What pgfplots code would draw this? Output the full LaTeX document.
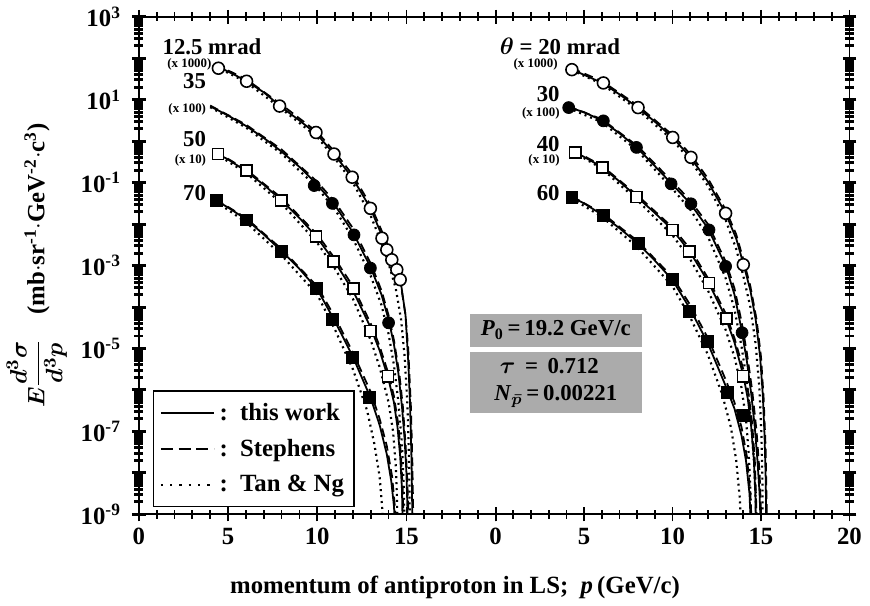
\documentclass[border=0pt]{standalone}
\usepackage{fontspec}
\setmainfont{Liberation Serif}
\usepackage{amsmath}
\usepackage{pgfplots}
\pgfplotsset{compat=1.18}
\pgfplotsset{
  sw/.style={black, line width=0.9pt, no markers, forget plot},
  st/.style={black, line width=0.9pt, dash pattern=on 4.5pt off 2.5pt, no markers, forget plot},
  tn/.style={black, line width=1.1pt, dash pattern=on 1pt off 2pt, no markers, forget plot},
  oc/.style={only marks, mark=*, mark size=3pt, mark options={fill=white, draw=black, line width=0.8pt}, forget plot},
  fc/.style={only marks, mark=*, mark size=3pt, mark options={fill=black, draw=black}, forget plot},
  os/.style={only marks, mark=square*, mark size=2.8pt, mark options={fill=white, draw=black, line width=0.8pt}, forget plot},
  fs/.style={only marks, mark=square*, mark size=3pt, mark options={fill=black, draw=black}, forget plot},
  legend image code/.code={\draw[#1] (0pt,0pt) -- (27pt,0pt);},
}
\tikzset{
  lab/.style={font=\fontsize{11.5}{11.5}\selectfont\bfseries, inner sep=1pt},
  fac/.style={font=\fontsize{6.5}{7}\selectfont\bfseries, inner sep=1pt},
}

\begin{document}
\begin{tikzpicture}[font=\bfseries]

% left panel
\begin{axis}[name=L, scale only axis, width=180pt, height=251pt,
  ymode=log, ymin=1e-9, ymax=1e3, xmin=0, xmax=20,
  axis x line*=box, axis y line*=left, axis line style={-, line width=0.9pt},
  clip mode=individual, tick align=center,
  ytick={1e-9,1e-8,1e-7,1e-6,1e-5,1e-4,1e-3,1e-2,1e-1,1e0,1e1,1e2,1e3},
  xtick={0,5,10,15,20}, minor x tick num=4,
  major tick length=7pt, minor tick length=4.5pt,
  every tick/.style={black, line width=0.9pt},
  y tick style={line width=1.5pt},
  ticklabel style={font=\fontsize{12.5}{12.5}\selectfont\bfseries},
  yticklabel style={xshift=-2pt},
  xticklabels={0,5,10,15,},
  yticklabels={10\textsuperscript{-9},,10\textsuperscript{-7},,10\textsuperscript{-5},,10\textsuperscript{-3},,10\textsuperscript{-1},,10\textsuperscript{1},,10\textsuperscript{3}},
  xlabel={momentum of antiproton in LS;\ \ \textit{p}\,(GeV/c)},
  xlabel style={at={(ticklabel cs:0.886)}, anchor=north, yshift=-9pt, font=\fontsize{12.5}{14}\selectfont\bfseries},
  ylabel={{\boldmath$E\dfrac{d^{3}\sigma}{d^{3}p}$}\quad(mb$\cdot$sr\textsuperscript{-1}$\cdot$GeV\textsuperscript{-2}$\cdot$c\textsuperscript{3})},
  ylabel style={font=\fontsize{12.5}{14}\selectfont\bfseries},
  legend style={at={(rel axis cs:0.039,0.014)}, anchor=south west, draw=black, line width=0.8pt,
    font=\fontsize{12.5}{14}\selectfont\bfseries, row sep=4pt, inner xsep=3pt, inner ysep=4pt},
  legend cell align=left,
]
\addlegendimage{black, line width=0.9pt}
\addlegendentry{:\ \ this work}
\addlegendimage{black, line width=0.9pt, dash pattern=on 6pt off 3pt}
\addlegendentry{:\ \ Stephens}
\addlegendimage{black, line width=1.3pt, dash pattern=on 1.2pt off 3.5pt}
\addlegendentry{:\ \ Tan \& Ng}

% 12.5 mrad (x1000)
\addplot[sw] coordinates {(4.3,66.1)(5,47.9)(6,28.8)(7,15.1)(8,6.61)(9,3.16)(10,1.45)(11,0.457)(12,0.126)(13,2.34e-2)(13.6,5.62e-3)(14,2.24e-3)(14.4,7.94e-4)(14.7,3.55e-4)(14.95,6.31e-5)(15.1,5.01e-6)(15.2,5.01e-7)(15.28,2.51e-8)(15.35,3.16e-10)};
\addplot[st] coordinates {(4.3,70.8)(6,31.6)(8,7.59)(10,1.66)(11,0.537)(12,0.151)(13,2.82e-2)(13.6,7.08e-3)(14,2.82e-3)(14.4,1e-3)(14.7,3.16e-4)(14.95,6.31e-5)(15.1,1e-5)(15.25,3.98e-7)(15.33,2.0e-8)(15.4,3.16e-10)};
\addplot[tn] coordinates {(4.3,63.1)(6,26.9)(8,6.03)(10,1.26)(11,0.380)(12,0.1)(13,1.58e-2)(13.6,3.55e-3)(14,1.12e-3)(14.4,2.82e-4)(14.7,5.01e-5)(14.9,6.31e-6)(15.05,5.01e-7)(15.15,2.0e-8)(15.2,3.16e-10)};
% 35 mrad (x100)
\addplot[sw] coordinates {(4.0,6.92)(5,4.17)(6,2.34)(7,1.20)(8,0.562)(9,0.240)(10,8.91e-2)(11,2.82e-2)(12,6.31e-3)(13,8.91e-4)(13.6,2.0e-4)(14,5.01e-5)(14.3,1.26e-5)(14.55,2.51e-6)(14.75,3.98e-7)(14.9,6.31e-8)(15.0,1e-8)(15.1,3.16e-10)};
\addplot[st] coordinates {(4.0,7.24)(6,2.51)(8,0.631)(10,0.105)(11,3.39e-2)(12,7.94e-3)(13,1.12e-3)(13.6,2.51e-4)(14,6.31e-5)(14.3,1.58e-5)(14.6,2.51e-6)(14.8,3.98e-7)(14.95,5.01e-8)(15.05,6.31e-9)(15.15,3.16e-10)};
\addplot[tn] coordinates {(4.0,6.61)(6,2.14)(8,0.501)(10,7.59e-2)(11,2.24e-2)(12,4.47e-3)(13,5.62e-4)(13.6,1.12e-4)(14,2.24e-5)(14.3,3.98e-6)(14.55,5.01e-7)(14.75,5.01e-8)(14.85,5.01e-9)(14.9,3.16e-10)};
% 50 mrad (x10)
\addplot[sw] coordinates {(4.3,0.525)(5,0.363)(6,0.191)(7,8.91e-2)(8,3.72e-2)(9,1.41e-2)(10,4.68e-3)(11,1.20e-3)(12,2.51e-4)(13,3.16e-5)(13.5,8.91e-6)(14,1.78e-6)(14.3,5.01e-7)(14.5,1.26e-7)(14.65,2.51e-8)(14.75,3.98e-9)(14.8,3.16e-10)};
\addplot[st] coordinates {(4.3,0.562)(6,0.209)(8,4.27e-2)(10,5.62e-3)(11,1.45e-3)(12,3.16e-4)(13,3.98e-5)(13.5,1.12e-5)(14,2.40e-6)(14.3,7.08e-7)(14.55,1.41e-7)(14.7,2.51e-8)(14.8,3.16e-9)(14.85,3.16e-10)};
\addplot[tn] coordinates {(4.3,0.501)(6,0.174)(8,3.16e-2)(10,3.55e-3)(11,8.32e-4)(12,1.58e-4)(13,1.58e-5)(13.5,3.55e-6)(14,5.01e-7)(14.25,1e-7)(14.4,1.58e-8)(14.47,2.51e-9)(14.5,3.16e-10)};
% 70 mrad
\addplot[sw] coordinates {(4.3,3.80e-2)(5,2.51e-2)(6,1.32e-2)(7,5.62e-3)(8,2.24e-3)(9,8.32e-4)(10,2.69e-4)(11,4.47e-5)(12,6.31e-6)(13,6.31e-7)(13.5,1.41e-7)(13.9,2.82e-8)(14.15,6.31e-9)(14.3,1.58e-9)(14.4,3.16e-10)};
\addplot[st] coordinates {(4.3,3.98e-2)(6,1.41e-2)(8,2.51e-3)(10,3.16e-4)(11,5.62e-5)(12,7.94e-6)(13,8.91e-7)(13.5,2.0e-7)(13.9,4.47e-8)(14.2,7.94e-9)(14.35,1.58e-9)(14.45,3.16e-10)};
\addplot[tn] coordinates {(4.3,3.55e-2)(6,1.12e-2)(8,1.78e-3)(10,2.0e-4)(11,2.82e-5)(12,3.16e-6)(12.8,3.16e-7)(13.2,5.01e-8)(13.5,7.94e-9)(13.65,1.26e-9)(13.7,3.16e-10)};

% data points
\addplot[oc] coordinates {(4.46,57.5)(6.04,27.9)(7.89,7.03)(9.93,1.62)(10.94,0.490)(11.96,0.135)(12.98,2.40e-2)(13.63,4.57e-3)(13.9,2.40e-3)(14.18,1.38e-3)(14.46,7.94e-4)(14.65,4.57e-4)};
\addplot[fc] coordinates {(9.83,8.51e-2)(10.85,3.16e-2)(12.06,5.50e-3)(12.98,8.71e-4)(14.0,4.17e-5)};
\addplot[os] coordinates {(4.43,0.490)(6.04,0.195)(7.98,3.72e-2)(9.93,5.01e-3)(10.91,1.26e-3)(12.02,2.82e-4)(12.98,2.63e-5)(13.96,2.14e-6)};
\addplot[fs] coordinates {(4.37,3.72e-2)(6.04,1.26e-2)(7.98,2.19e-3)(9.93,2.82e-4)(10.85,5.01e-5)(11.96,6.17e-6)(12.93,6.76e-7)};

\node[lab, anchor=west] at (axis cs:1.2,190) {12.5 mrad};
\node[fac, anchor=east] at (axis cs:4.2,70) {(x 1000)};
\node[lab, anchor=east] at (axis cs:3.9,27.9) {35};
\node[fac, anchor=east] at (axis cs:3.9,5.96) {(x 100)};
\node[lab, anchor=east] at (axis cs:3.9,1.15) {50};
\node[fac, anchor=east] at (axis cs:3.9,0.34) {(x 10)};
\node[lab, anchor=east] at (axis cs:3.9,0.055) {70};
\end{axis}

% right panel
\begin{axis}[name=R, at={(L.south east)}, anchor=south west,
  scale only axis, width=178.5pt, height=251pt,
  ymode=log, ymin=1e-9, ymax=1e3, xmin=0, xmax=20,
  axis x line*=box, axis y line*=right, axis line style={-, line width=0.9pt},
  clip mode=individual, tick align=center,
  ytick={1e-9,1e-8,1e-7,1e-6,1e-5,1e-4,1e-3,1e-2,1e-1,1e0,1e1,1e2,1e3},
  xtick={0,5,10,15,20}, minor x tick num=4,
  major tick length=7pt, minor tick length=4.5pt,
  every tick/.style={black, line width=0.9pt},
  y tick style={line width=1.5pt},
  ticklabel style={font=\fontsize{12.5}{12.5}\selectfont\bfseries},
  xticklabels={0,5,10,15,20},
  yticklabels={},
]
% 20 mrad (x1000)
\addplot[sw] coordinates {(4.3,53.7)(5,39.8)(6,25.7)(7,13.5)(8,6.61)(9,2.95)(10,1.23)(11,0.417)(12,0.105)(13,1.82e-2)(13.6,4.47e-3)(14,1.12e-3)(14.4,2.51e-4)(14.7,5.01e-5)(14.95,6.31e-6)(15.1,7.94e-7)(15.2,7.94e-8)(15.27,6.31e-9)(15.3,3.16e-10)};
\addplot[st] coordinates {(4.3,57.5)(6,28.2)(8,7.41)(10,1.41)(11,0.490)(12,0.126)(13,2.24e-2)(13.6,5.62e-3)(14,1.41e-3)(14.4,3.16e-4)(14.75,5.01e-5)(15,6.31e-6)(15.15,6.31e-7)(15.27,3.16e-8)(15.35,3.16e-10)};
\addplot[tn] coordinates {(4.3,51.3)(6,24.0)(8,5.89)(10,1.07)(11,0.347)(12,8.32e-2)(13,1.26e-2)(13.6,2.51e-3)(14,5.62e-4)(14.4,1e-4)(14.7,1.26e-5)(14.9,1.26e-6)(15.02,1e-7)(15.08,6.31e-9)(15.1,3.16e-10)};
% 30 mrad (x100)
\addplot[sw] coordinates {(4.1,6.61)(5,5.01)(6,3.16)(7,1.55)(8,0.692)(9,0.251)(10,8.91e-2)(11,3.16e-2)(12,7.94e-3)(13,1e-3)(13.5,2.0e-4)(13.9,2.82e-5)(14.2,5.01e-6)(14.45,7.94e-7)(14.65,1.26e-7)(14.8,2.0e-8)(14.92,3.16e-9)(15.0,3.16e-10)};
\addplot[st] coordinates {(4.1,6.92)(6,3.39)(8,0.776)(10,0.105)(11,3.72e-2)(12,1e-2)(13,1.26e-3)(13.5,2.82e-4)(13.9,4.47e-5)(14.2,7.94e-6)(14.5,1e-6)(14.75,1e-7)(14.92,1e-8)(15.05,3.16e-10)};
\addplot[tn] coordinates {(4.1,6.31)(6,2.88)(8,0.603)(10,7.08e-2)(11,2.24e-2)(12,5.01e-3)(13,5.01e-4)(13.5,8.91e-5)(13.9,1.12e-5)(14.2,1.58e-6)(14.45,1.58e-7)(14.6,2.0e-8)(14.7,2.51e-9)(14.75,3.16e-10)};
% 40 mrad (x10)
\addplot[sw] coordinates {(4.4,0.575)(5,0.417)(6,0.240)(7,0.107)(8,4.47e-2)(9,1.86e-2)(10,7.24e-3)(11,2.09e-3)(12,4.17e-4)(13,5.62e-5)(13.5,1.41e-5)(14,2.24e-6)(14.25,6.31e-7)(14.45,1.26e-7)(14.6,2.0e-8)(14.68,3.16e-9)(14.72,3.16e-10)};
\addplot[st] coordinates {(4.4,0.603)(6,0.257)(8,5.01e-2)(10,8.32e-3)(11,2.51e-3)(12,5.01e-4)(13,7.08e-5)(13.5,1.78e-5)(14,3.16e-6)(14.3,7.94e-7)(14.5,1.58e-7)(14.65,2.0e-8)(14.72,2.51e-9)(14.77,3.16e-10)};
\addplot[tn] coordinates {(4.4,0.550)(6,0.219)(8,3.80e-2)(10,5.37e-3)(11,1.41e-3)(12,2.51e-4)(13,2.82e-5)(13.5,6.31e-6)(13.9,1.12e-6)(14.15,2.0e-7)(14.3,3.16e-8)(14.4,3.98e-9)(14.45,3.16e-10)};
% 60 mrad
\addplot[sw] coordinates {(4.3,4.47e-2)(5,3.16e-2)(6,1.70e-2)(7,7.94e-3)(8,3.55e-3)(9,1.32e-3)(10,4.47e-4)(11,8.91e-5)(12,1.32e-5)(13,1.26e-6)(13.5,3.55e-7)(13.9,7.94e-8)(14.15,2.0e-8)(14.35,3.16e-9)(14.45,3.16e-10)};
\addplot[st] coordinates {(4.3,4.68e-2)(6,1.86e-2)(8,3.98e-3)(10,5.25e-4)(11,1.12e-4)(12,1.78e-5)(13,1.78e-6)(13.5,5.01e-7)(13.9,1.26e-7)(14.2,2.51e-8)(14.4,3.16e-9)(14.5,3.16e-10)};
\addplot[tn] coordinates {(4.3,4.17e-2)(6,1.51e-2)(8,2.82e-3)(10,3.16e-4)(11,5.62e-5)(12,7.08e-6)(12.8,7.94e-7)(13.3,1.26e-7)(13.6,2.0e-8)(13.8,2.51e-9)(13.9,3.16e-10)};

% data points
\addplot[oc] coordinates {(4.31,53.1)(6.09,25.4)(8.05,6.46)(10.01,1.23)(11.04,0.407)(13.0,1.82e-2)(14.0,1.05e-3)};
\addplot[fc] coordinates {(4.13,6.46)(6.09,3.09)(7.96,0.708)(9.92,9.33e-2)(11.04,3.09e-2)(12.06,7.24e-3)(13.0,9.55e-4)(13.93,2.40e-5)};
\addplot[os] coordinates {(4.5,0.537)(6.05,0.234)(7.96,4.47e-2)(10.01,7.24e-3)(10.94,2.19e-3)(12.06,3.80e-4)(13.05,5.25e-5)(13.99,2.14e-6)};
\addplot[fs] coordinates {(4.31,4.47e-2)(6.09,1.66e-2)(8.05,3.47e-3)(10.01,4.57e-4)(10.94,7.94e-5)(11.97,1.51e-5)(13.09,8.91e-7)(14.02,2.45e-7)};

\node[lab, anchor=west] at (axis cs:0.1,190) {{\boldmath$\theta$} = 20 mrad};
\node[fac, anchor=east] at (axis cs:3.64,70) {(x 1000)};
\node[lab, anchor=east] at (axis cs:3.75,13.5) {30};
\node[fac, anchor=east] at (axis cs:3.75,4.79) {(x 100)};
\node[lab, anchor=east] at (axis cs:3.75,0.87) {40};
\node[fac, anchor=east] at (axis cs:3.75,0.34) {(x 10)};
\node[lab, anchor=east] at (axis cs:3.75,0.055) {60};

\node[fill=black!33, minimum width=87pt, minimum height=16.5pt, inner sep=2pt,
  font=\fontsize{11.5}{13}\selectfont\bfseries] at (axis cs:3.4,2.75e-5)
  {\textit{P}\textsubscript{0}\,=\,19.2 GeV/c};
\node[fill=black!33, minimum width=87pt, minimum height=28pt, inner sep=3pt, align=left,
  font=\fontsize{11.5}{14}\selectfont\bfseries] at (axis cs:3.4,1.5e-6)
  {\ {\boldmath$\tau$}\ \,=\ \,0.712\\ \textit{N}\textsubscript{\boldmath$\bar{p}$}\,=\,0.00221};
\end{axis}
\end{tikzpicture}
\end{document}
